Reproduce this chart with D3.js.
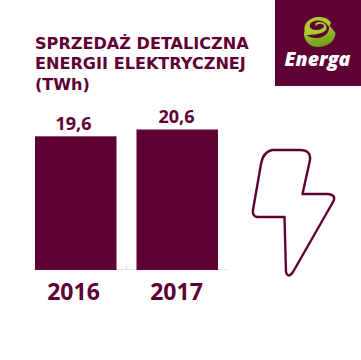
<!DOCTYPE html>
<html>
<head>
<meta charset="utf-8">
<script src="https://cdn.jsdelivr.net/npm/d3@7"></script>
<style>
html, body { margin: 0; padding: 0; background: #fff; }
svg { display: block; }
text { font-family: "Open Sans", sans-serif; font-weight: 700; fill: #5f0035; }
.title { font-family: "DejaVu Sans", sans-serif; }
</style>
</head>
<body>
<div id="chart"></div>
<script>
const years = ["2016", "2017"];
const sales = [19.6, 20.6];
const valueLabels = ["19,6", "20,6"];
const titleLines = ["SPRZEDAŻ DETALICZNA", "ENERGII ELEKTRYCZNEJ", "(TWh)"];

const width = 361, height = 360;
const color = "#5f0035";
const svg = d3.select("#chart").append("svg").attr("width", width).attr("height", height);

// x scale
const x = d3.scaleBand().domain(years).range([35, 218]).paddingInner(0.197);
// labels sit a bit wider apart than the bars
const xLabel = d3.scalePoint().domain(years).range([73.5, 176.5]);
// y scale, baseline at 270
const y = d3.scaleLinear().domain([0, 20.6]).range([270, 129.5]);

// title
svg.selectAll(".title").data(titleLines).join("text")
    .attr("class", "title")
    .attr("x", 35)
    .attr("y", (d, i) => 49 + i * 20.3)
    .attr("font-size", "16.1px")
    .text(d => d);

// thin base line with tick between bars
svg.append("path")
    .attr("d", "M34,269.5H228M126.5,265V269.5")
    .attr("fill", "none").attr("stroke", "#e8e0e4").attr("stroke-width", 1);

// bars
svg.selectAll(".bar").data(years).join("rect")
    .attr("class", "bar")
    .attr("x", d => x(d))
    .attr("y", (d, i) => y(sales[i]))
    .attr("width", x.bandwidth())
    .attr("height", (d, i) => y(0) - y(sales[i]))
    .attr("fill", color);

// value labels
svg.selectAll(".value").data(years).join("text")
    .attr("class", "value")
    .attr("x", d => xLabel(d))
    .attr("y", (d, i) => y(sales[i]) - 6.5)
    .attr("text-anchor", "middle")
    .attr("font-size", "18px")
    .text((d, i) => valueLabels[i]);

// category labels
svg.selectAll(".year").data(years).join("text")
    .attr("class", "year")
    .attr("x", d => xLabel(d))
    .attr("y", 300)
    .attr("text-anchor", "middle")
    .attr("font-size", "23px")
    .text(d => d);

// lightning bolt
svg.append("path")
    .attr("d", "M272,150H300Q311,150 310,160L302.5,194H328Q337,195 333,202L293,272Q288,279 286,272L284.5,217H257Q252,216 253,210L261,164Q263,152 272,150Z")
    .attr("fill", "none").attr("stroke", color).attr("stroke-width", 2.4)
    .attr("stroke-linejoin", "round");

// logo
const defs = svg.append("defs");
const grad = defs.append("linearGradient").attr("id", "swirl")
    .attr("x1", 0).attr("y1", 0).attr("x2", 0.3).attr("y2", 1);
grad.append("stop").attr("offset", "0%").attr("stop-color", "#b5d334");
grad.append("stop").attr("offset", "100%").attr("stop-color", "#6f9f1c");

const logo = svg.append("g");
logo.append("rect").attr("x", 275).attr("y", 0).attr("width", 86).attr("height", 86).attr("fill", color);
// upper ring of the swirl
logo.append("path")
    .attr("d", "M306,35C301,25 309,17 319,17C325,17 329,19 331,23L329,27C327,23 322,20 317,20.5C312,21 309,24 310,27C311,30 317,31 321,29C324,28 325,26 323,24.5C321,23 317,24 316,26C314,24 316,22 320,22C325,22 328,26 326,30C323,34 313,35 306,35Z")
    .attr("fill", "#a9cb2e");
// lower band
logo.append("path")
    .attr("d", "M304,31C303,39 308,46 316,47C326,48 335,42 335.5,33L329,25C330,32 326,37 318,38C311,38.5 306,36 304,31Z")
    .attr("fill", "url(#swirl)");
logo.append("text")
    .attr("x", 317.5).attr("y", 66)
    .attr("text-anchor", "middle")
    .attr("font-size", "19.5px")
    .attr("font-style", "italic")
    .style("font-weight", 800)
    .style("fill", "#fff")
    .text("Energa");
</script>
</body>
</html>
